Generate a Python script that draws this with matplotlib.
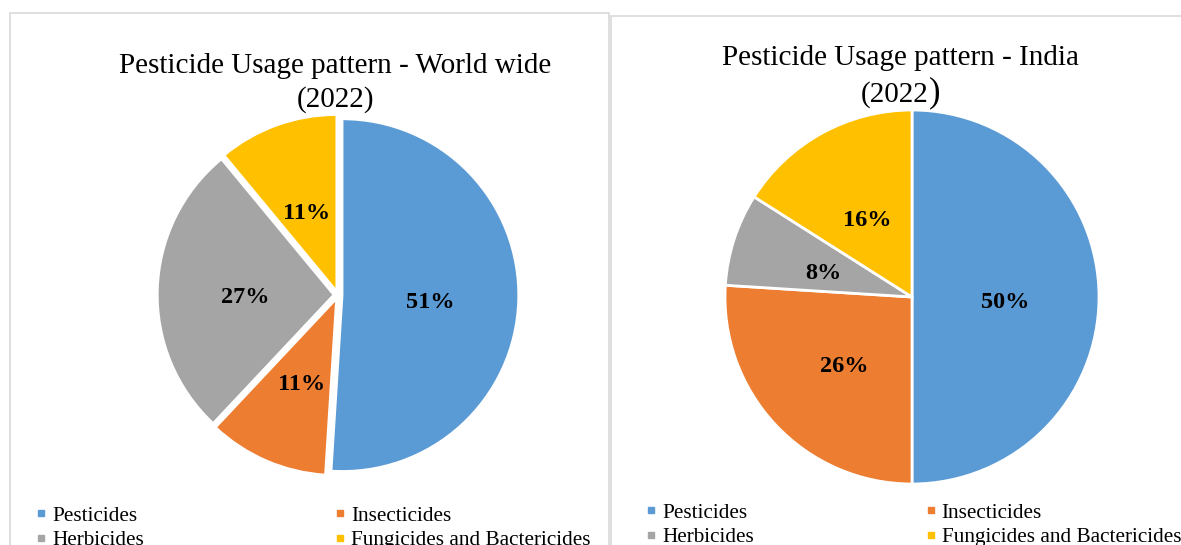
import matplotlib
matplotlib.use('Agg')
import matplotlib.pyplot as plt
from matplotlib.lines import Line2D
from matplotlib.patches import Rectangle

plt.rcParams['font.family'] = ['Liberation Serif', 'DejaVu Serif']

categories = ['Pesticides', 'Insecticides', 'Herbicides', 'Fungicides and Bactericides']
world = [51, 11, 27, 11]
india = [50, 26, 8, 16]
colors = ['#5B9BD5', '#ED7D31', '#A5A5A5', '#FFC000']

W, H = 1181, 545
fig = plt.figure(figsize=(W / 100, H / 100), dpi=100)
fig.patch.set_facecolor('white')


def fx(x):
    return x / W


def fy(y):
    return 1 - y / H


def pie_axes(cx, cy, r):
    # square axes of radius r (pixels) around centre cx, cy
    half = 1.1 * r
    return fig.add_axes([fx(cx - half), fy(cy + half), 2 * half / W, 2 * half / H])


def finish(ax, autotexts, r):
    ax.set_xlim(-1.1, 1.1)
    ax.set_ylim(-1.1, 1.1)
    ax.set_aspect('equal')
    ax.axis('off')
    # drop the percentage labels a few pixels
    for t in autotexts:
        x, y = t.get_position()
        t.set_position((x, y - 5.0 / r))


# chart area borders
fig.add_artist(Rectangle((fx(10), -0.1), fx(609) - fx(10), fy(13) + 0.1,
                         transform=fig.transFigure, fill=False, ec='#d9d9d9', lw=1.2))
fig.add_artist(Rectangle((fx(611), -0.1), 0.5, fy(16) + 0.1,
                         transform=fig.transFigure, fill=False, ec='#d9d9d9', lw=1.2))

lbl = dict(fontsize=17.5, fontweight='bold', color='black')

ax0 = pie_axes(338, 295, 176)
_, _, at0 = ax0.pie(world, colors=colors, startangle=90, counterclock=False,
                    explode=[0.025] * 4, autopct=lambda p: '%.0f%%' % p, pctdistance=0.5,
                    wedgeprops=dict(edgecolor='white', linewidth=1.5), textprops=lbl)
finish(ax0, at0, 176)

ax1 = pie_axes(912, 297, 187)
_, _, at1 = ax1.pie(india, colors=colors, startangle=90, counterclock=False,
                    autopct=lambda p: '%.0f%%' % p, pctdistance=0.5,
                    wedgeprops=dict(edgecolor='white', linewidth=2), textprops=lbl)
finish(ax1, at1, 187)

# titles
fig.text(fx(335), fy(66), 'Pesticide Usage pattern - World wide', fontsize=21, ha='center', va='center')
fig.text(fx(336), fy(100), '(2022)', fontsize=21, ha='center', va='center')
fig.text(fx(900), fy(58), 'Pesticide Usage pattern - India', fontsize=21, ha='center', va='center')
fig.text(fx(929), fy(95), '(2022', fontsize=21, ha='right', va='center')
fig.text(fx(929), fy(93), ')', fontsize=25, ha='left', va='center')

# legend fills column-wise, so order as P, H | I, F to read across rows
order = [0, 2, 1, 3]
handles = [Line2D([], [], marker='s', ls='', color=colors[i], markersize=5) for i in order]
labels = [categories[i] for i in order]
leg_kw = dict(ncol=2, frameon=False, fontsize=15.3, handlelength=0.5, handletextpad=0.25,
              labelspacing=0.22, borderpad=0, borderaxespad=0, loc='upper left')
fig.legend(handles, labels, bbox_to_anchor=(fx(36), fy(506)), columnspacing=9.0, **leg_kw)
fig.legend(handles, labels, bbox_to_anchor=(fx(646), fy(503)), columnspacing=8.1, **leg_kw)

fig.savefig('out.png', dpi=100, facecolor='white')
